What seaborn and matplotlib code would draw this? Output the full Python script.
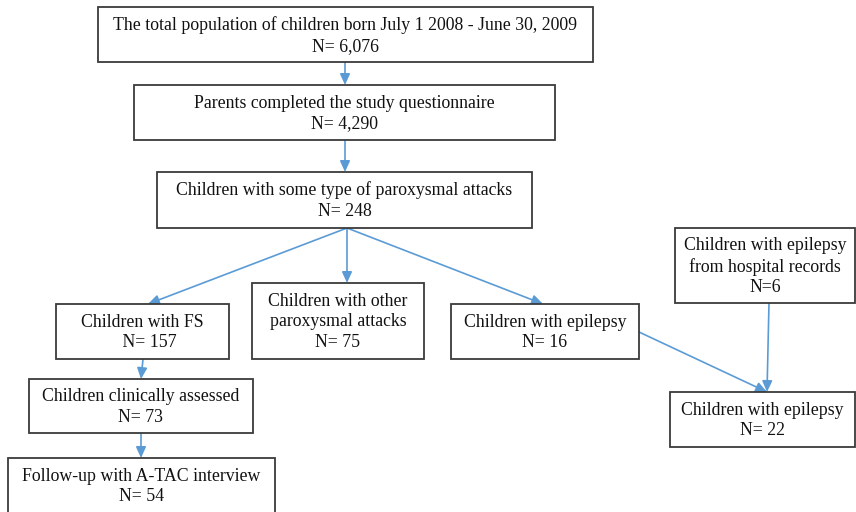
import matplotlib
matplotlib.use('Agg')
import matplotlib.pyplot as plt
import seaborn as sns
from matplotlib.patches import Rectangle

# flowchart content
labels = ['The total population of children born July 1 2008 - June 30, 2009',
          'Parents completed the study questionnaire',
          'Children with some type of paroxysmal attacks',
          'Children with FS',
          'Children with other\nparoxysmal attacks',
          'Children with epilepsy',
          'Children with epilepsy\nfrom hospital records',
          'Children clinically assessed',
          'Follow-up with A-TAC interview',
          'Children with epilepsy']
counts = ['N= 6,076', 'N= 4,290', 'N= 248', '   N= 157', 'N= 75', 'N= 16',
          'N=6', 'N= 73', 'N= 54', 'N= 22']

# box layout in pixels: left, top, right, bottom
boxes = [(98, 7, 593, 62), (134, 85, 555, 140), (157, 172, 532, 228),
         (56, 304, 229, 359), (252, 283, 424, 359), (451, 304, 639, 359),
         (675, 228, 855, 303), (29, 379, 253, 433), (8, 458, 275, 513),
         (670, 392, 855, 447)]

# arrows: start point -> end point in pixels
arrows = [((345, 62), (345, 85)), ((345, 140), (345, 172)),
          ((347, 228), (148, 304)), ((347, 228), (347, 283)),
          ((347, 228), (543, 304)), ((639, 332), (767, 392)),
          ((769, 303), (767, 392)), ((143, 359), (141, 379)),
          ((141, 433), (141, 458))]

sns.set_theme(style='white')
plt.rcParams['font.family'] = ['Liberation Serif', 'DejaVu Serif']

fig = plt.figure(figsize=(8.56, 5.12), dpi=100)
ax = fig.add_axes([0, 0, 1, 1])
ax.set_xlim(0, 856)
ax.set_ylim(512, 0)
ax.axis('off')

arrow_col = '#5B9BD5'
for (x0, y0), (x1, y1) in arrows:
    ax.annotate('', xy=(x1, y1), xytext=(x0, y0),
                arrowprops=dict(arrowstyle='-|>,head_length=0.55,head_width=0.25',
                                color=arrow_col, lw=1.2,
                                shrinkA=0, shrinkB=0))

for (l, t, r, b), lab, n in zip(boxes, labels, counts):
    ax.add_patch(Rectangle((l, t), r - l, b - t, fill=True, facecolor='white',
                           edgecolor='#3a3a3a', lw=1.3, zorder=3))
    ax.text((l + r) / 2, (t + b) / 2 + 1, lab + '\n' + n, ha='center',
            va='center', fontsize=12.8, color='#111111', linespacing=1.3,
            zorder=4)

fig.savefig('out.png', dpi=100)
plt.close('all')
